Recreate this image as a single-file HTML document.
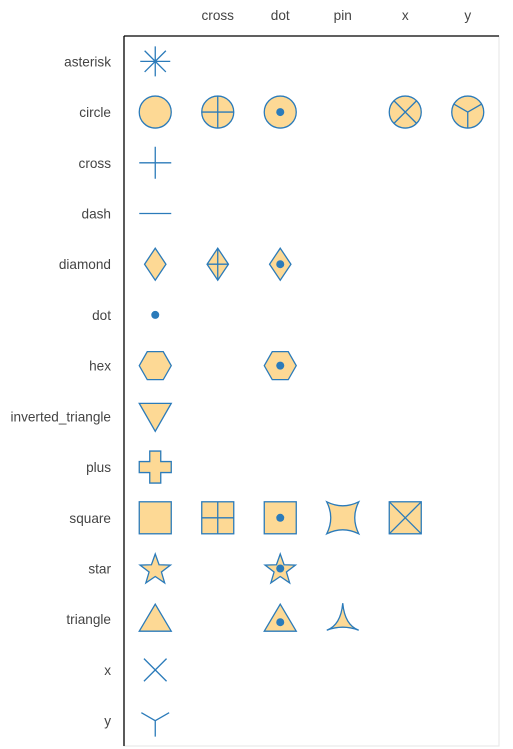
<!DOCTYPE html>
<html><head><meta charset="utf-8"><style>
body{margin:0;background:#fff;}
svg{display:block;font-family:"Liberation Sans",sans-serif;}
</style></head><body>
<svg id="chart" width="513" height="749" viewBox="0 0 513 749"></svg>
<script>
const rowCats=["asterisk","circle","cross","dash","diamond","dot","hex","inverted_triangle","plus","square","star","triangle","x","y"];
const colCats=["","cross","dot","pin","x","y"];
const markers=[["asterisk",""],["circle",""],["circle","cross"],["circle","dot"],["circle","x"],["circle","y"],["cross",""],["dash",""],["diamond",""],["diamond","cross"],["diamond","dot"],["dot",""],["hex",""],["hex","dot"],["inverted_triangle",""],["plus",""],["square",""],["square","cross"],["square","dot"],["square","pin"],["square","x"],["star",""],["star","dot"],["triangle",""],["triangle","dot"],["triangle","pin"],["x",""],["y",""]];
const L=124,R=499,T=36,B=746;
const xs=c=>L+(colCats.indexOf(c)+0.5)*(R-L)/colCats.length;
const ys=r=>T+(rowCats.indexOf(r)+0.5)*(B-T)/rowCats.length;
const svg=document.getElementById('chart');
const NS="http://www.w3.org/2000/svg";
function el(tag,attrs,parent){const e=document.createElementNS(NS,tag);for(const k in attrs)e.setAttribute(k,attrs[k]);(parent||svg).appendChild(e);return e;}
const F="#fdd995",S="#2b7bba";
const fr=el('rect',{x:L,y:T,width:R-L,height:B-T,fill:"none",stroke:"#e5e5e5"});

const ya=el('line',{x1:L,y1:T,x2:L,y2:B,stroke:"#000","stroke-width":1.3});

const xa=el('line',{x1:L,y1:T,x2:R,y2:T,stroke:"#000","stroke-width":1.3});

rowCats.forEach(r=>{const t=el('text',{x:111,y:ys(r)+5,"text-anchor":"end","font-size":13.6,fill:"#444"});t.textContent=r;
});
colCats.forEach(c=>{if(!c)return;const t=el('text',{x:xs(c),y:20,"text-anchor":"middle","font-size":13.6,fill:"#444"});t.textContent=c;
});
const st={fill:F,stroke:S,"stroke-width":1.3};
const ln={fill:"none",stroke:S,"stroke-width":1.3};
function shape(g,base,mod){
 const r=16;
 if(base==="asterisk"){const a=15,d=10.6;el('path',Object.assign({d:`M${-a},0H${a}M0,${-a}V${a}M${-d},${-d}L${d},${d}M${-d},${d}L${d},${-d}`},ln),g);}
 else if(base==="circle"){el('circle',Object.assign({r:r},st),g);if(mod==="cross")el('path',Object.assign({d:`M-16,0H16M0,-16V16`},ln),g);
  if(mod==="x"){const d=11.3;el('path',Object.assign({d:`M${-d},${-d}L${d},${d}M${-d},${d}L${d},${-d}`},ln),g);}
  if(mod==="y"){el('path',Object.assign({d:`M0,0V16M0,0L-13.9,-8M0,0L13.9,-8`},ln),g);}}
 else if(base==="cross"){el('path',Object.assign({d:`M-16,0H16M0,-16V16`},ln),g);}
 else if(base==="dash"){el('path',Object.assign({d:`M-16,0H16`},ln),g);}
 else if(base==="diamond"){el('path',Object.assign({d:`M0,-16L10.7,0L0,16L-10.7,0Z`},st),g);if(mod==="cross")el('path',Object.assign({d:`M-10.7,0H10.7M0,-16V16`},ln),g);}
 else if(base==="dot"){el('circle',{r:4,fill:S},g);}
 else if(base==="hex"){el('path',Object.assign({d:`M-16,0L-8,-14L8,-14L16,0L8,14L-8,14Z`},st),g);}
 else if(base==="inverted_triangle"){el('path',Object.assign({d:`M-16,-13L16,-13L0,15Z`},st),g);}
 else if(base==="plus"){const a=16,b=5.5;el('path',Object.assign({d:`M${-b},${-a}H${b}V${-b}H${a}V${b}H${b}V${a}H${-b}V${b}H${-a}V${-b}H${-b}Z`},st),g);}
 else if(base==="square"){
  if(mod==="pin"){el('path',Object.assign({d:`M-16,-16Q0,-8 16,-16Q8,0 16,16Q0,8 -16,16Q-8,0 -16,-16Z`},st),g);}
  else{el('rect',Object.assign({x:-16,y:-16,width:32,height:32},st),g);
   if(mod==="cross")el('path',Object.assign({d:`M-16,0H16M0,-16V16`},ln),g);
   if(mod==="x")el('path',Object.assign({d:`M-16,-16L16,16M-16,16L16,-16`},ln),g);}}
 else if(base==="star"){let p=[];for(let i=0;i<10;i++){const rr=i%2?6.5:16;const a=-Math.PI/2+i*Math.PI/5;p.push((rr*Math.cos(a)).toFixed(2)+","+(rr*Math.sin(a)+1.5).toFixed(2));}
  el('path',Object.assign({d:"M"+p.join("L")+"Z"},st),g);}
 else if(base==="triangle"){
  if(mod==="pin")el('path',Object.assign({d:`M0,-16Q-2,6 -16,11Q0,5 16,11Q2,6 0,-16Z`},st),g);
  else el('path',Object.assign({d:`M0,-15L16,12L-16,12Z`},st),g);}
 else if(base==="x"){const d=11.3;el('path',Object.assign({d:`M${-d},${-d}L${d},${d}M${-d},${d}L${d},${-d}`},ln),g);}
 else if(base==="y"){el('path',Object.assign({d:`M0,0V16M0,0L-13.9,-8M0,0L13.9,-8`},ln),g);}
 if(mod==="dot"){el('circle',{r:4,fill:S,cy:base==="triangle"?3:0},g);}
}
markers.forEach(([b,m])=>{
 const g=el('g',{transform:`translate(${xs(m).toFixed(2)},${ys(b).toFixed(2)})`});
 
 
 shape(g,b,m);
});
</script>
</body></html>
